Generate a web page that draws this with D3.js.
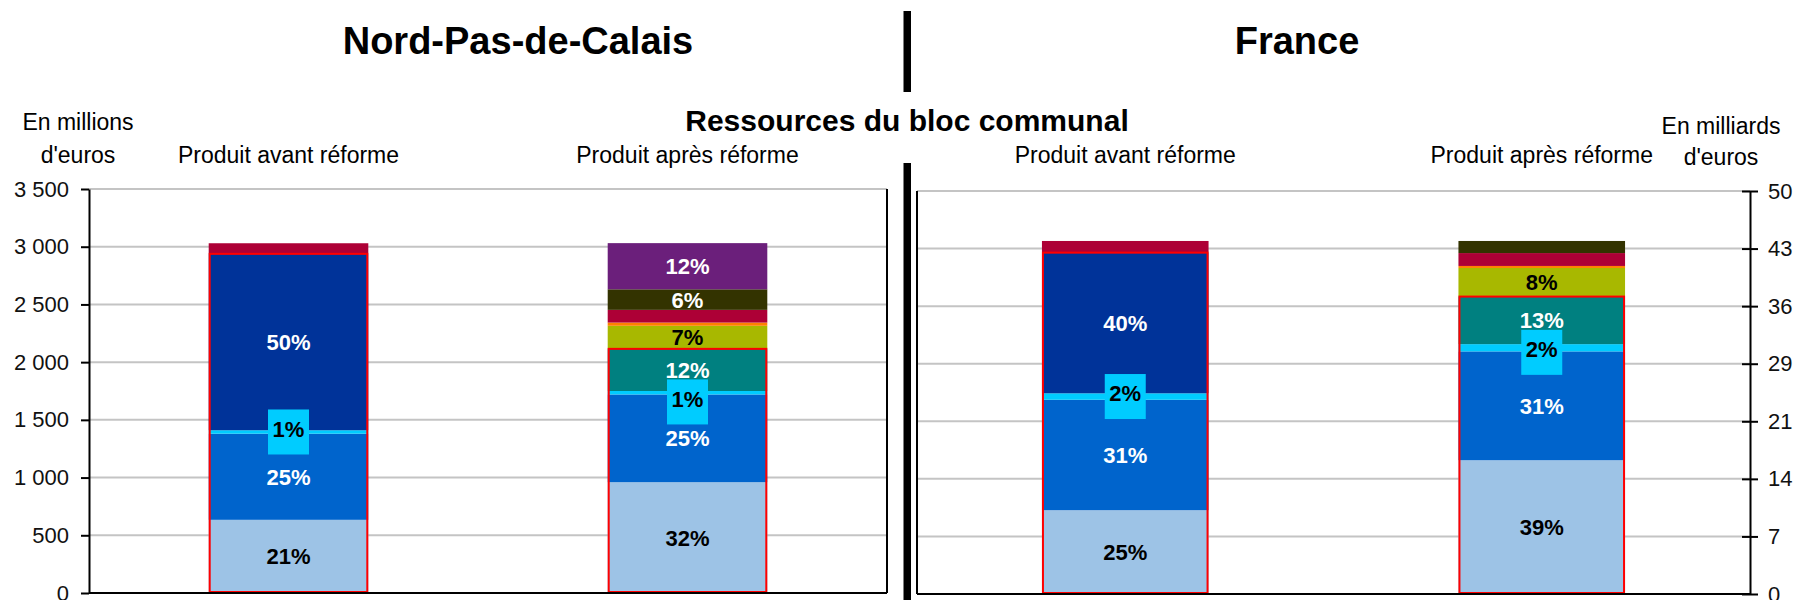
<html>
<head>
<meta charset="utf-8">
<title>Ressources du bloc communal</title>
<script src="https://d3js.org/d3.v7.min.js"></script>
<style>
body { margin: 0; background: #fff; }
text { font-family: "Liberation Sans", Arial, sans-serif; }
.grid { stroke: #c4c4c4; stroke-width: 2px; }
.axis path, .axis line { stroke: #000; stroke-width: 2px; }
.axis text { font-size: 22px; fill: #111; }
</style>
</head>
<body>
<script>
// categories (same for both panels)
var categories = ["Produit avant réforme", "Produit après réforme"];

// Nord-Pas-de-Calais, en millions d'euros (bottom -> top)
var npdcAvant = [634, 746, 30, 1528, 92];
var npdcApres = [960, 760, 30, 365, 200, 28, 110, 178, 400];
var npdcAvantLabels = ["21%", "25%", "1%", "50%", ""];
var npdcApresLabels = ["32%", "25%", "1%", "12%", "7%", "", "", "6%", "12%"];

// France, en milliards d'euros
var franceAvant = [10.4, 13.7, 0.8, 17.45, 1.45];
var franceApres = [16.6, 13.5, 0.9, 5.9, 3.55, 0.25, 1.6, 1.5];
var franceAvantLabels = ["25%", "31%", "2%", "40%", ""];
var franceApresLabels = ["39%", "31%", "2%", "13%", "8%", "", "", ""];

// segment colours
var colAvant = ["#9dc3e6", "#0064cc", "#00ccff", "#003399", "#ad0036"];
var colApres = ["#9dc3e6", "#0064cc", "#00ccff", "#008080", "#a8b800", "#ff8000", "#ad0036", "#333300", "#6b1f7b"];
var darkFills = ["#0064cc", "#003399", "#008080", "#333300", "#6b1f7b", "#ad0036"];

// axis ticks
var leftTicks = [0, 500, 1000, 1500, 2000, 2500, 3000, 3500];
var rightTicks = d3.range(8).map(function(i) { return 50 * i / 7; });

var width = 1796, height = 600;
var fr = d3.formatLocale({decimal: ",", thousands: " ", grouping: [3], currency: ["", " €"]});

var svg = d3.select("body").append("svg")
    .attr("width", width)
    .attr("height", height);

svg.append("rect").attr("width", width).attr("height", height).attr("fill", "#fff");

var left = {x0: 89, x1: 887, top: 189, bottom: 593};
var right = {x0: 917, x1: 1750, top: 191, bottom: 594};

var yLeft = d3.scaleLinear().domain([0, 3500]).range([left.bottom, left.top]);
var yRight = d3.scaleLinear().domain([0, 50]).range([right.bottom, right.top]);
var xLeft = d3.scaleBand().domain(categories).range([left.x0, left.x1]).paddingInner(0.6).paddingOuter(0.3);
var xRight = d3.scaleBand().domain(categories).range([right.x0, right.x1]).paddingInner(0.6).paddingOuter(0.3);

function drawPanel(p, x, y, ticks) {
    var g = svg.append("g");
    g.selectAll("line.grid")
        .data(ticks)
        .enter().append("line")
        .attr("class", "grid")
        .attr("x1", p.x0).attr("x2", p.x1)
        .attr("y1", function(d) { return y(d); })
        .attr("y2", function(d) { return y(d); });
}

function drawBar(x, y, cat, values, colors, labels) {
    var cum = d3.cumsum(values);
    var g = svg.append("g");
    var bx = x(cat), bw = x.bandwidth();

    g.selectAll("rect.seg")
        .data(values)
        .enter().append("rect")
        .attr("class", "seg")
        .attr("x", bx)
        .attr("width", bw)
        .attr("y", function(d, i) { return y(cum[i]); })
        .attr("height", function(d, i) { return y(cum[i] - d) - y(cum[i]); })
        .attr("fill", function(d, i) { return colors[i]; });

    // red frame round the four first segments
    g.append("rect")
        .attr("x", bx + 1)
        .attr("width", bw - 2)
        .attr("y", y(cum[3]))
        .attr("height", y(0) - y(cum[3]) - 1)
        .attr("fill", "none")
        .attr("stroke", "#ff0000")
        .attr("stroke-width", 2);

    var mid = function(i) { return (y(cum[i]) + y(cum[i] - values[i])) / 2; };
    // the small cyan label is pushed down when the label above is too close
    var cyanY = Math.max(mid(2), mid(3) + 32);

    g.append("rect")
        .attr("x", bx + bw / 2 - 20.5)
        .attr("y", cyanY - 22.5)
        .attr("width", 41)
        .attr("height", 45)
        .attr("fill", colors[2]);

    g.selectAll("text.lbl")
        .data(labels)
        .enter().append("text")
        .attr("class", "lbl")
        .attr("x", bx + bw / 2)
        .attr("y", function(d, i) { return i == 2 ? cyanY - 3 : mid(i); })
        .attr("dy", "0.36em")
        .attr("text-anchor", "middle")
        .style("font-size", "22px")
        .style("font-weight", "bold")
        .attr("fill", function(d, i) { return darkFills.indexOf(colors[i]) >= 0 ? "#fff" : "#000"; })
        .text(function(d) { return d; });
}

drawPanel(left, xLeft, yLeft, leftTicks);
drawPanel(right, xRight, yRight, rightTicks);

drawBar(xLeft, yLeft, categories[0], npdcAvant, colAvant, npdcAvantLabels);
drawBar(xLeft, yLeft, categories[1], npdcApres, colApres, npdcApresLabels);
drawBar(xRight, yRight, categories[0], franceAvant, colAvant, franceAvantLabels);
drawBar(xRight, yRight, categories[1], franceApres, colApres, franceApresLabels);

// axes
svg.append("g")
    .attr("class", "axis")
    .attr("transform", "translate(" + left.x0 + ",0)")
    .call(d3.axisLeft(yLeft).tickValues(leftTicks).tickSize(8).tickSizeOuter(0).tickPadding(12).tickFormat(fr.format(",d")));

var ra = svg.append("g")
    .attr("class", "axis")
    .attr("transform", "translate(" + right.x1 + ",0)")
    .call(d3.axisRight(yRight).tickValues(rightTicks).tickSize(8).tickSizeOuter(0).tickPadding(10).tickFormat(function(d) { return Math.round(d); }));
ra.selectAll(".tick line").attr("x1", -8);

// frames
svg.append("line").attr("x1", left.x0).attr("x2", left.x1).attr("y1", left.bottom).attr("y2", left.bottom).attr("stroke", "#000").attr("stroke-width", 2);
svg.append("line").attr("x1", left.x1).attr("x2", left.x1).attr("y1", left.top).attr("y2", left.bottom).attr("stroke", "#000").attr("stroke-width", 2);
svg.append("line").attr("x1", right.x0).attr("x2", right.x1).attr("y1", right.bottom).attr("y2", right.bottom).attr("stroke", "#000").attr("stroke-width", 2);
svg.append("line").attr("x1", right.x0).attr("x2", right.x0).attr("y1", right.top).attr("y2", right.bottom).attr("stroke", "#000").attr("stroke-width", 2);

// thick divider, broken by the subtitle
svg.append("rect").attr("x", 903.5).attr("y", 11).attr("width", 7.5).attr("height", 81).attr("fill", "#000");
svg.append("rect").attr("x", 903.5).attr("y", 163).attr("width", 7.5).attr("height", 437).attr("fill", "#000");

// titles
svg.append("text").attr("x", 518).attr("y", 54).attr("text-anchor", "middle")
    .style("font-size", "38px").style("font-weight", "bold").text("Nord-Pas-de-Calais");
svg.append("text").attr("x", 1297).attr("y", 54).attr("text-anchor", "middle")
    .style("font-size", "38px").style("font-weight", "bold").text("France");
svg.append("text").attr("x", 907).attr("y", 131).attr("text-anchor", "middle")
    .style("font-size", "30px").style("font-weight", "bold").text("Ressources du bloc communal");

// category labels
svg.selectAll("text.catL")
    .data(categories).enter().append("text")
    .attr("x", function(d) { return xLeft(d) + xLeft.bandwidth() / 2; })
    .attr("y", 163).attr("text-anchor", "middle").style("font-size", "23px")
    .text(function(d) { return d; });
svg.selectAll("text.catR")
    .data(categories).enter().append("text")
    .attr("x", function(d) { return xRight(d) + xRight.bandwidth() / 2; })
    .attr("y", 163).attr("text-anchor", "middle").style("font-size", "23px")
    .text(function(d) { return d; });

// units
svg.append("text").attr("x", 78).attr("y", 130).attr("text-anchor", "middle").style("font-size", "23px").text("En millions");
svg.append("text").attr("x", 78).attr("y", 163).attr("text-anchor", "middle").style("font-size", "23px").text("d'euros");
svg.append("text").attr("x", 1721).attr("y", 134).attr("text-anchor", "middle").style("font-size", "23px").text("En milliards");
svg.append("text").attr("x", 1721).attr("y", 165).attr("text-anchor", "middle").style("font-size", "23px").text("d'euros");
</script>
</body>
</html>
